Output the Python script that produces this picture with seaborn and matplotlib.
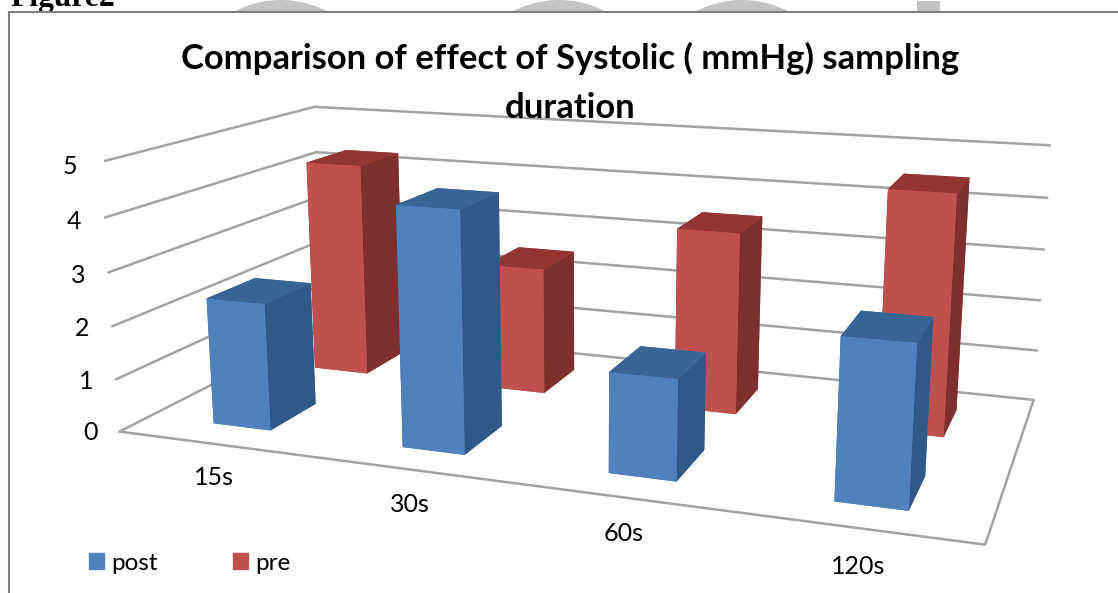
#!/usr/bin/env python3

import numpy as np
import matplotlib
matplotlib.use("Agg")
import matplotlib.pyplot as plt
from matplotlib.patches import Circle, Patch, Rectangle
from matplotlib.transforms import IdentityTransform
import seaborn as sns

sns.set_theme(style="white")
plt.rcParams["font.family"] = ["Lato", "DejaVu Sans"]

categories = ["15s", "30s", "60s", "120s"]
post = [2.4, 4.4, 1.8, 2.8]
pre = [4.3, 2.5, 3.5, 4.5]
z_ticks = [0, 1, 2, 3, 4, 5]

W, H = 1118, 593
BLUE = ["#4f81bd", "#386496", "#4f81bd", "#4f81bd", "#30598a", "#30598a"]
RED = ["#c0504d", "#933533", "#c0504d", "#c0504d", "#7f302e", "#7f302e"]
GREY = "#a3a3a3"

fig = plt.figure(figsize=(W / 100, H / 100), dpi=100)

# page behind the chart: scraps of the watermark and the caption
px = IdentityTransform()
for cx in (281, 559, 742):
    fig.patches.append(Circle((cx, H - 100), 100, color="#c4c4c4", lw=0, transform=px, zorder=0))
fig.patches.append(Rectangle((917, H - 11), 23, 10, color="#c4c4c4", lw=0, transform=px, zorder=0))
fig.patches.append(Rectangle((9, -10), W, H - 12 + 10, facecolor="white", edgecolor="#808080", lw=1.5,
                             transform=px, zorder=1))
fig.text(10 / W, 1 - 6 / H, "Figure2", family="Liberation Serif", weight="bold", fontsize=22.7,
         color="black", va="baseline", zorder=0.5)

# camera found by fitting the box corners of the reference
size = 946.362
ax = fig.add_axes([(577.502 - size / 2) / W, (H - 299.674 - size / 2) / H, size / W, size / H],
                  projection="3d", computed_zorder=False)
ax.set_zorder(5)
ax.patch.set_visible(False)
ax.set_xticks([])
ax.set_yticks([])
ax.set_zticks([])
ax.set_xlim(0, 4, view_margin=0)
ax.set_ylim(0, 1, view_margin=0)
ax.set_zlim(0, 5, view_margin=0)
ax.view_init(elev=13.883, azim=-70.144, roll=-0.029)
ax.set_proj_type("persp", focal_length=0.325)
ax.set_box_aspect((3.117, 1.536, 1.0))
ax.set_axis_off()

for z in z_ticks:
    ax.plot([0, 0], [0, 1], [z, z], color=GREY, lw=1.8, zorder=1)
    ax.plot([0, 4], [1, 1], [z, z], color=GREY, lw=1.8, zorder=1)
ax.plot([0, 4, 4], [0, 0, 1], [0, 0, 0], color=GREY, lw=1.8, zorder=1)

xs = np.arange(len(categories)) + 0.35
ax.bar3d(xs, np.full(4, 0.63), np.zeros(4), 0.31, 0.22, pre, color=RED * 4, shade=False,
         linewidth=0, zorder=2)
ax.bar3d(xs, np.full(4, 0.13), np.zeros(4), 0.31, 0.22, post, color=BLUE * 4, shade=False,
         linewidth=0, zorder=3)

for z in z_ticks:
    ax.text(-0.12, -0.03, z * 0.985, str(z), ha="center", va="center", fontsize=18, color="black")
for i, name in enumerate(categories):
    ax.text(i + 0.505, 0, -0.64, name, ha="center", va="center", fontsize=18, color="black")

fig.text(570 / W, 1 - 58 / H, "Comparison of effect of Systolic ( mmHg) sampling", ha="center", va="center",
         fontsize=24.9, weight="bold", color="black", zorder=6)
fig.text(570 / W, 1 - 108 / H, "duration", ha="center", va="center",
         fontsize=24.9, weight="bold", color="black", zorder=6)

handles = [Patch(color=BLUE[0], label="post"), Patch(color=RED[0], label="pre")]
leg = fig.legend(handles=handles, loc="center left", bbox_to_anchor=(89 / W, 1 - 563 / H), ncol=2, frameon=False,
                 fontsize=17.5, borderpad=0, borderaxespad=0, handlelength=0.62, handleheight=0.62,
                 handletextpad=0.3, columnspacing=3.1, labelcolor="black")
leg.set_zorder(6)

fig.savefig("out.png", dpi=100)
